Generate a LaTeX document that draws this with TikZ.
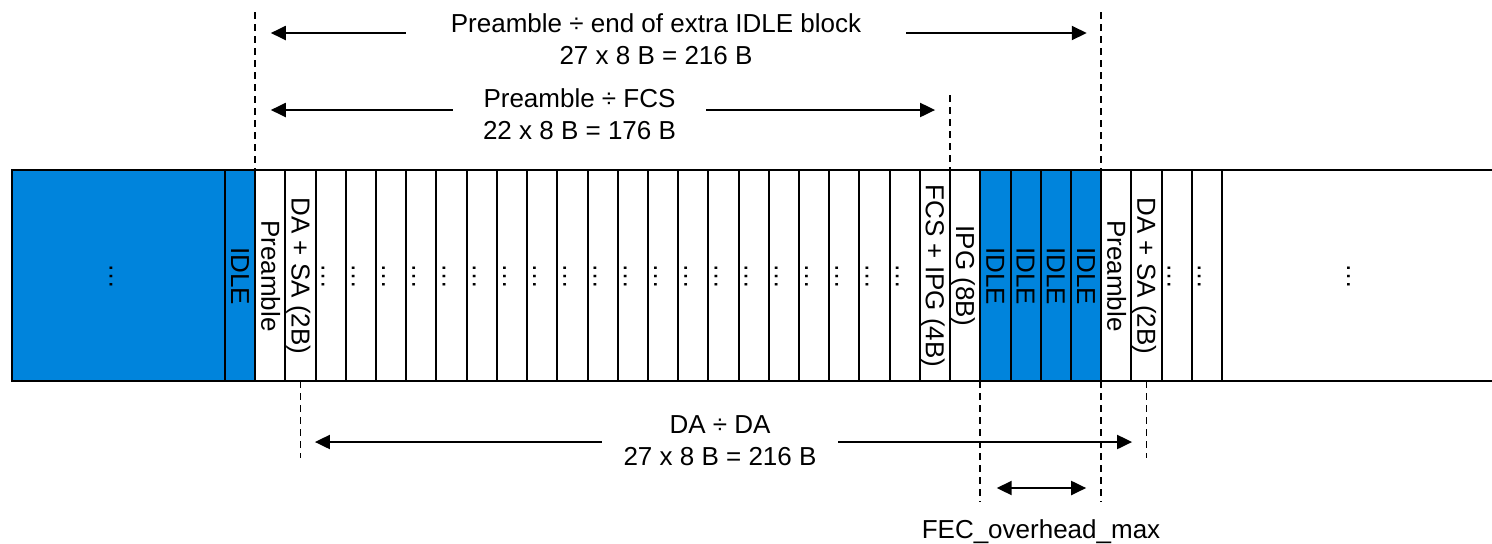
\documentclass[tikz,border=0pt]{standalone}
\usepackage{fontspec}
\setmainfont{Liberation Sans}
\usetikzlibrary{arrows.meta}
\definecolor{idleblue}{RGB}{0,132,220}
\begin{document}
\begin{tikzpicture}[x=0.5pt,y=-0.5pt,
  font=\fontsize{13}{16}\selectfont,
  cellline/.style={draw=black,line width=1pt},
  celltext/.style={rotate=-90,anchor=base,inner sep=0pt},
  guide/.style={draw=black,line width=0.9pt,dash pattern=on 3.5pt off 2.5pt},
  dimboth/.style={draw=black,line width=1pt,{Triangle[length=7.5pt,width=7pt]}-{Triangle[length=7.5pt,width=7pt]}},
  dimlabel/.style={fill=white,align=center,inner sep=0pt,anchor=base}
]
\useasboundingbox (0,0) rectangle (1492,543);
\def\cw{30.212}
% blue fills
\fill[idleblue] (12,170) rectangle (255.2,381);
\fill[idleblue] (980.3,170) rectangle (1101.15,381);
% outer frame and cell borders
\draw[cellline] (1500,170) -- (12,170) -- (12,381) -- (1500,381);
\draw[cellline] (225,170) -- (225,381);
\foreach \i in {1,...,33} {
  \draw[cellline] ({225+\cw*\i},170) -- ({225+\cw*\i},381);
}
% cell texts
\node[celltext] (t0) at ({225+15.1-9},276) {IDLE};
\node[celltext] (t1) at ({225+\cw+15.1-9},276) {Preamble};
\node[celltext] (t2) at ({225+2*\cw+15.1-9},276) {DA + SA (2B)};
\foreach \i in {3,...,22} {
  \node[celltext] (t\i) at ({225+\i*\cw+15.1-9},276) {…};
}
\node[celltext] (t23) at ({225+23*\cw+15.1-9},276) {FCS + IPG (4B)};
\node[celltext] (t24) at ({225+24*\cw+15.1-9},276) {IPG (8B)};
\foreach \i in {25,...,28} {
  \node[celltext] (t\i) at ({225+\i*\cw+15.1-9},276) {IDLE};
}
\node[celltext] (t29) at ({225+29*\cw+15.1-9},276) {Preamble};
\node[celltext] (t30) at ({225+30*\cw+15.1-9},276) {DA + SA (2B)};
\node[celltext] (t31) at ({225+31*\cw+15.1-9},276) {…};
\node[celltext] (t32) at ({225+32*\cw+15.1-9},276) {…};
\node[celltext] (tleft) at (109.5,276) {…};
\node[celltext] (tright) at (1347,276) {…};
% guide lines
\coordinate (g1t) at (255.2,12);   \coordinate (g1b) at (255.2,170);
\coordinate (g2t) at (1101.15,12); \coordinate (g2b) at (1101.15,170);
\coordinate (g3t) at (950.1,95);   \coordinate (g3b) at (950.1,170);
\coordinate (b1t) at (300.5,381);  \coordinate (b1b) at (300.5,458);
\coordinate (b2t) at (980.3,381);  \coordinate (b2b) at (980.3,502);
\coordinate (b3t) at (1101.15,381);\coordinate (b3b) at (1101.15,502);
\coordinate (b4t) at (1146.5,381); \coordinate (b4b) at (1146.5,458);
\foreach \g in {g1,g2,g3,b1,b2,b3,b4} { \draw[guide] (\g t) -- (\g b); }
% dimension arrows
\coordinate (a1l) at (255.2,33);  \coordinate (a1r) at (1101.15,33);
\coordinate (a2l) at (255.2,110); \coordinate (a2r) at (950.1,110);
\coordinate (a3l) at (300.5,442); \coordinate (a3r) at (1146.5,442);
\coordinate (a4l) at (980.3,488); \coordinate (a4r) at (1101.15,488);
\draw[dimboth,shorten <=7.8pt,shorten >=7.2pt] (a1l) -- (a1r);
\draw[dimboth,shorten <=7.8pt,shorten >=7.5pt] (a2l) -- (a2r);
\draw[dimboth,shorten <=7.2pt,shorten >=7.2pt] (a3l) -- (a3r);
\draw[dimboth,shorten <=8.2pt,shorten >=7.5pt] (a4l) -- (a4r);
% labels (anchor base = baseline of the last line)
\node[dimlabel,minimum width=250pt] (l1) at (656,64) {Preamble ÷ end of extra IDLE block\\27 x 8 B = 216 B};
\node[dimlabel,minimum width=126.5pt] (l2) at (579.5,139) {Preamble ÷ FCS\\22 x 8 B = 176 B};
\node[dimlabel,minimum width=118pt] (l3) at (720,465) {DA ÷ DA\\27 x 8 B = 216 B};
\node[anchor=base,inner sep=0pt] (l4) at (1041,538) {FEC\_overhead\_max};
\end{tikzpicture}
\end{document}
